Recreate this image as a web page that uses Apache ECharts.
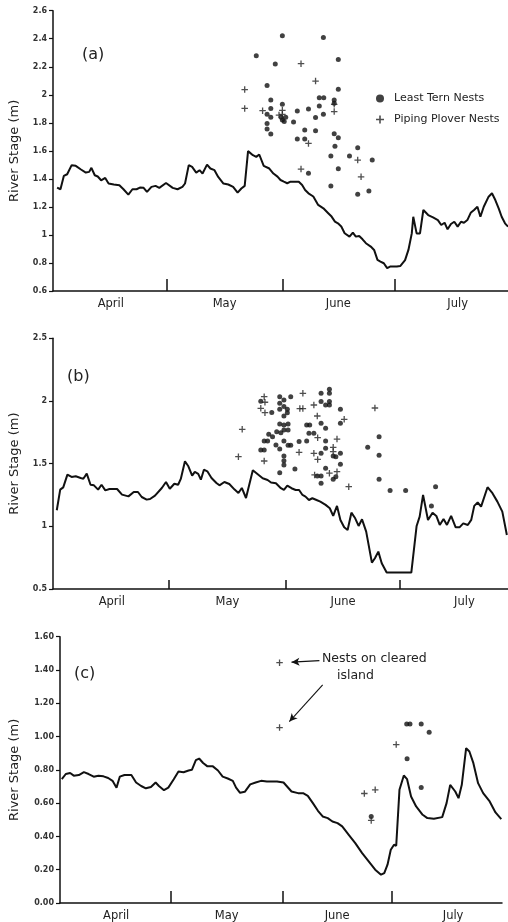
<!DOCTYPE html>
<html>
<head>
<meta charset="utf-8">
<script src="https://cdn.jsdelivr.net/npm/echarts@6/dist/echarts.min.js"></script>
<style>
html,body{margin:0;padding:0;background:#fff;}
#chart{width:508px;height:922px;}
</style>
</head>
<body>
<div id="chart"></div>
<script>
// ---------- axis / label data ----------
const monthNames = ['April', 'May', 'June', 'July'];
const monthBounds = [30.5, 61.5, 91.5];        // day index of month boundaries (Apr 1 = day 1)
const monthMids = [15.5, 46, 76.5, 108.5];      // where month names are written
const panelLabels = ['(a)', '(b)', '(c)'];
const yTitle = 'River Stage (m)';
const legendNames = ['Least Tern Nests', 'Piping Plover Nests'];
const annotationLines = ['Nests on cleared', 'island'];

// ---------- panel (a) ----------
const aDays = [1.1,2.0,2.9,3.8,5.0,6.1,7.5,8.8,9.7,10.3,11.2,12.0,12.9,14.0,14.9,16.3,17.8,18.9,20.2,21.3,22.4,23.3,24.3,25.2,26.4,27.5,28.5,30.3,32.1,33.4,34.7,35.4,36.4,37.3,38.4,39.3,40.1,41.3,42.2,43.3,44.3,45.7,47.0,48.3,49.5,50.5,51.4,52.3,53.6,54.5,55.3,56.5,58.0,59.1,60.2,61.0,61.9,62.8,63.7,65.9,66.8,67.6,68.5,69.8,71.1,72.5,73.8,74.7,75.6,76.4,77.3,78.2,79.5,80.4,81.2,82.1,83.0,83.9,85.2,86.1,87.0,87.8,88.7,89.6,90.5,92.2,93.1,94.4,95.3,96.2,96.6,97.5,98.4,99.3,100.6,101.9,103.2,104.1,105.0,105.8,106.7,107.6,108.5,109.4,110.2,111.1,112.0,112.9,113.8,114.6,115.5,116.8,117.7,118.6,119.5,120.3,121.2,122];
const aStage = [1.338,1.326,1.421,1.433,1.498,1.493,1.467,1.445,1.45,1.479,1.426,1.417,1.39,1.407,1.367,1.36,1.355,1.326,1.288,1.326,1.326,1.338,1.336,1.307,1.343,1.35,1.336,1.371,1.336,1.326,1.343,1.367,1.498,1.486,1.445,1.462,1.438,1.502,1.474,1.462,1.414,1.367,1.36,1.343,1.302,1.331,1.35,1.598,1.569,1.557,1.574,1.493,1.474,1.438,1.416,1.392,1.38,1.369,1.38,1.38,1.357,1.321,1.297,1.274,1.214,1.19,1.155,1.131,1.095,1.083,1.06,1.012,0.988,1.017,0.988,0.993,0.969,0.941,0.917,0.893,0.822,0.81,0.798,0.763,0.775,0.775,0.778,0.82,0.893,1.011,1.13,1.011,1.011,1.178,1.142,1.125,1.106,1.071,1.087,1.04,1.078,1.094,1.059,1.094,1.087,1.106,1.158,1.178,1.201,1.13,1.201,1.273,1.297,1.249,1.19,1.13,1.083,1.059];
const aTern = [[61.5,2.422],[72.5,2.408],[54.5,2.279],[59.6,2.22],[76.5,2.251],[57.4,2.067],[76.5,2.039],[58.4,1.963],[71.4,1.979],[72.6,1.979],[75.4,1.963],[61.5,1.932],[58.4,1.903],[68.5,1.898],[65.5,1.884],[71.4,1.92],[57.4,1.861],[58.4,1.84],[61.2,1.84],[62.4,1.84],[64.5,1.806],[70.4,1.838],[72.5,1.861],[75.4,1.94],[57.4,1.796],[57.4,1.756],[58.4,1.72],[67.5,1.749],[70.4,1.744],[65.5,1.684],[67.5,1.684],[75.4,1.722],[76.5,1.694],[75.6,1.632],[74.5,1.563],[76.5,1.473],[68.5,1.44],[79.5,1.563],[81.7,1.622],[85.6,1.534],[74.5,1.35],[81.7,1.29],[84.7,1.314],[61.5,1.82],[62.0,1.81]];
const aPlover = [[51.4,2.037],[51.4,1.903],[66.5,2.222],[70.4,2.098],[56.2,1.887],[61.5,1.889],[60.6,1.855],[75.4,1.88],[75.4,1.932],[68.5,1.653],[66.5,1.47],[81.7,1.534],[82.6,1.415],[61.5,1.86]];

// ---------- panel (b) ----------
const bDays = [1.0,1.9,2.7,3.8,4.9,6.0,7.3,8.0,8.9,9.9,10.8,11.9,12.8,13.8,14.9,16.9,18.2,19.9,21.3,22.4,23.4,24.7,25.6,26.9,28.7,29.8,30.8,32.0,33.0,33.7,34.8,35.7,36.7,37.4,38.3,39.0,39.8,40.7,41.8,43.1,43.9,45.2,46.5,47.9,48.9,49.8,50.9,52.7,54.0,55.3,56.6,57.5,58.8,60.1,60.9,61.8,62.9,64.0,64.9,65.8,66.6,67.5,68.4,69.5,70.5,71.9,73.0,73.9,74.9,75.8,76.8,77.7,78.7,79.7,80.6,81.5,82.6,84.1,84.9,85.8,86.7,88.0,94.5,95.9,96.7,97.6,98.9,100.1,101.1,102.0,103.0,103.9,105.0,106.2,107.2,108.2,109.4,110.3,111.1,112.0,112.9,114.6,115.9,117.2,118.5,119.7];
const bStage = [1.128,1.293,1.311,1.412,1.394,1.399,1.386,1.38,1.42,1.332,1.327,1.293,1.332,1.287,1.298,1.298,1.253,1.239,1.274,1.274,1.234,1.213,1.218,1.245,1.306,1.354,1.3,1.34,1.332,1.378,1.519,1.479,1.404,1.434,1.418,1.372,1.452,1.439,1.386,1.346,1.327,1.354,1.338,1.293,1.266,1.306,1.226,1.447,1.415,1.383,1.37,1.349,1.343,1.304,1.29,1.325,1.304,1.29,1.29,1.25,1.237,1.21,1.224,1.21,1.197,1.171,1.144,1.083,1.163,1.051,0.992,0.971,1.109,1.064,1.003,1.056,0.958,0.71,0.745,0.798,0.705,0.631,0.631,1.003,1.077,1.251,1.051,1.109,1.083,1.011,1.059,1.011,1.083,0.992,0.992,1.024,1.011,1.051,1.163,1.19,1.157,1.312,1.264,1.197,1.117,0.931];
const bTern = [[54.8,1.997],[57.7,1.909],[59.8,2.034],[60.9,2.007],[62.7,2.034],[59.8,1.981],[60.9,1.955],[59.8,1.933],[61.8,1.933],[61.8,1.907],[60.9,1.88],[59.8,1.817],[60.9,1.808],[62.0,1.817],[59.0,1.755],[60.1,1.747],[60.9,1.768],[62.0,1.768],[56.9,1.734],[57.9,1.715],[55.7,1.681],[56.6,1.681],[58.8,1.649],[59.8,1.617],[60.9,1.681],[62.0,1.646],[62.7,1.646],[54.8,1.609],[55.7,1.609],[60.9,1.561],[60.9,1.524],[60.9,1.489],[59.8,1.428],[63.8,1.457],[64.9,1.676],[66.9,1.681],[66.9,1.808],[67.7,1.808],[67.5,1.742],[68.8,1.742],[70.7,2.061],[72.9,2.093],[72.9,2.061],[70.7,1.995],[72.9,1.995],[71.9,1.968],[72.9,1.968],[75.8,1.933],[70.7,1.822],[71.9,1.782],[75.8,1.822],[71.9,1.681],[71.9,1.622],[70.7,1.582],[73.9,1.561],[75.8,1.582],[74.6,1.556],[75.8,1.495],[71.9,1.463],[69.7,1.402],[70.7,1.402],[70.7,1.343],[73.9,1.375],[74.6,1.396],[83.0,1.63],[86.0,1.715],[86.0,1.568],[86.0,1.375],[88.9,1.285],[93.0,1.285],[100.9,1.316],[99.8,1.162]];
const bPlover = [[48.9,1.556],[49.9,1.774],[55.7,2.034],[55.9,1.99],[54.8,1.941],[55.9,1.907],[55.7,1.521],[65.9,2.061],[68.8,1.968],[69.7,1.88],[69.8,1.707],[64.9,1.59],[68.8,1.582],[69.8,1.534],[69.0,1.41],[72.9,1.424],[74.9,1.696],[73.9,1.63],[73.9,1.596],[74.9,1.436],[76.8,1.854],[78.0,1.316],[84.9,1.944],[65.1,1.939],[65.9,1.939]];

// ---------- panel (c) ----------
const cDays = [0.5,1.6,2.8,3.8,5.2,6.6,7.9,9.3,10.6,12.0,13.3,14.5,15.6,16.5,17.8,19.7,21.0,22.4,23.7,25.1,26.4,27.3,28.7,29.9,31.4,32.7,34.1,35.5,36.4,37.5,38.4,39.5,40.7,42.2,43.6,44.9,46.3,47.7,48.6,49.7,51.0,52.5,54.0,55.5,57.1,59.9,61.7,63.9,65.7,67.1,68.4,69.8,71.2,72.5,73.9,75.2,76.6,77.9,79.7,81.5,83.4,85.2,87.0,88.6,89.5,90.4,91.3,92.2,92.8,93.7,94.9,95.8,96.9,98.3,100.1,101.4,103.2,105.5,106.7,107.7,109.1,110.0,110.9,112.1,113.0,114.1,115.4,116.8,118.6,120.2,121.8];
const cStage = [0.744,0.775,0.781,0.765,0.769,0.786,0.775,0.759,0.765,0.761,0.751,0.734,0.693,0.759,0.769,0.769,0.724,0.703,0.689,0.697,0.724,0.703,0.678,0.693,0.744,0.79,0.786,0.796,0.8,0.858,0.868,0.841,0.821,0.821,0.796,0.759,0.748,0.734,0.693,0.662,0.668,0.713,0.724,0.734,0.73,0.73,0.724,0.67,0.66,0.66,0.644,0.6,0.554,0.52,0.51,0.49,0.48,0.46,0.41,0.36,0.3,0.25,0.2,0.17,0.18,0.23,0.32,0.35,0.344,0.68,0.766,0.744,0.64,0.58,0.53,0.51,0.506,0.516,0.6,0.71,0.67,0.63,0.71,0.93,0.91,0.84,0.72,0.66,0.61,0.544,0.504];
const cTern = [[85.9,0.52],[95.7,1.076],[96.6,1.076],[99.7,1.076],[101.9,1.026],[95.8,0.866],[99.7,0.694]];
const cPlover = [[60.6,1.444],[60.6,1.054],[84.0,0.658],[87.0,0.68],[85.9,0.496],[92.8,0.952]];
// arrows of the "Nests on cleared island" note: [fromDay, fromStage, toDay, toStage]
const cArrows = [[71.6,1.456,63.9,1.447],[72.5,1.31,63.3,1.09]];

// ---------- build ----------
const zip = (xs, ys) => xs.map((x, i) => [x, ys[i]]);
const INK = '#111';
const TXT = '#222';
const FONT = 'DejaVu Sans';
const PLUS = 'path://M0,2.8H7V4.2H0Z M2.8,0H4.2V7H2.8Z';

const grids = [
  {left: 45, top: 10.7, width: 463, height: 280.3},
  {left: 50, top: 338.3, width: 458, height: 250.7},
  {left: 52.5, top: 636.7, width: 449.5, height: 266.6}
];
const xMax = [122, 120, 122];
const tickLen = [12, 9, 12];
const yCfg = [
  {min: 0.6, max: 2.6, interval: 0.2, fmt: v => String(Math.round(v * 10) / 10), gap: 32},
  {min: 0.5, max: 2.5, interval: 0.5, fmt: v => String(Math.round(v * 10) / 10), gap: 32},
  {min: 0, max: 1.6, interval: 0.2, fmt: v => v.toFixed(2), gap: 39}
];

const xAxes = grids.map((g, i) => ({
  gridIndex: i, type: 'value', min: 0, max: xMax[i],
  axisLine: {show: true, onZero: false, lineStyle: {color: INK, width: 1.5}},
  axisTick: {show: true, inside: true, length: tickLen[i], customValues: monthBounds, lineStyle: {color: INK, width: 1.5}},
  axisLabel: {customValues: monthMids, formatter: v => monthNames[monthMids.indexOf(v)] || '',
              fontSize: 11.5, color: TXT, fontFamily: FONT, margin: 7},
  splitLine: {show: false}
}));
const yAxes = yCfg.map((c, i) => ({
  gridIndex: i, type: 'value', min: c.min, max: c.max, interval: c.interval,
  name: yTitle, nameLocation: 'middle', nameGap: c.gap,
  nameTextStyle: {fontSize: 13, color: TXT, fontFamily: FONT},
  axisLine: {show: true, onZero: false, lineStyle: {color: INK, width: 1.5}},
  axisTick: {show: true, length: 4, lineStyle: {color: INK, width: 1.2}},
  axisLabel: {formatter: c.fmt, fontSize: 8, fontWeight: 'bold', color: '#333', fontFamily: FONT, margin: 6},
  splitLine: {show: false}
}));

function lineSeries(i, xs, ys) {
  return {type: 'line', xAxisIndex: i, yAxisIndex: i, data: zip(xs, ys), showSymbol: false,
          lineStyle: {color: INK, width: 2}, z: 3, silent: true};
}
function ternSeries(i, pts) {
  return {name: legendNames[0], type: 'scatter', xAxisIndex: i, yAxisIndex: i, data: pts,
          symbol: 'circle', symbolSize: 5, itemStyle: {color: INK}, z: 4};
}
function ploverSeries(i, pts, extra) {
  return Object.assign({name: legendNames[1], type: 'scatter', xAxisIndex: i, yAxisIndex: i, data: pts,
          symbol: PLUS, symbolSize: 6.5, itemStyle: {color: TXT}, z: 4}, extra || {});
}

const arrowMark = {
  silent: true, symbol: ['none', 'arrow'], symbolSize: [6, 8],
  label: {show: false},
  lineStyle: {color: INK, width: 1.1, type: 'solid'},
  data: cArrows.map(a => [{coord: [a[0], a[1]]}, {coord: [a[2], a[3]]}])
};

const option = {
  animation: false,
  backgroundColor: '#fff',
  textStyle: {fontFamily: FONT},
  grid: grids,
  xAxis: xAxes,
  yAxis: yAxes,
  title: [
    {text: panelLabels[0], left: 77, top: 42, textStyle: {fontSize: 16, fontWeight: 'normal', color: TXT, fontFamily: FONT}},
    {text: panelLabels[1], left: 62, top: 364, textStyle: {fontSize: 16, fontWeight: 'normal', color: TXT, fontFamily: FONT}},
    {text: panelLabels[2], left: 69, top: 661, textStyle: {fontSize: 16, fontWeight: 'normal', color: TXT, fontFamily: FONT}}
  ],
  legend: {
    data: legendNames, orient: 'vertical', left: 371, top: 88, itemWidth: 8, itemHeight: 8, itemGap: 10,
    selectedMode: false, textStyle: {fontSize: 11, color: TXT, fontFamily: FONT, padding: [0, 0, 0, 5]}
  },
  graphic: [
    {type: 'text', left: 322, top: 652, style: {text: annotationLines[0], fontSize: 12.5, fill: TXT, fontFamily: FONT}},
    {type: 'text', left: 337, top: 669, style: {text: annotationLines[1], fontSize: 12.5, fill: TXT, fontFamily: FONT}}
  ],
  series: [
    lineSeries(0, aDays, aStage), ternSeries(0, aTern), ploverSeries(0, aPlover),
    lineSeries(1, bDays, bStage), ternSeries(1, bTern), ploverSeries(1, bPlover),
    lineSeries(2, cDays, cStage), ternSeries(2, cTern), ploverSeries(2, cPlover, {markLine: arrowMark})
  ]
};

const chart = echarts.init(document.getElementById('chart'), null, {renderer: 'canvas'});
chart.setOption(option);
</script>
</body>
</html>
